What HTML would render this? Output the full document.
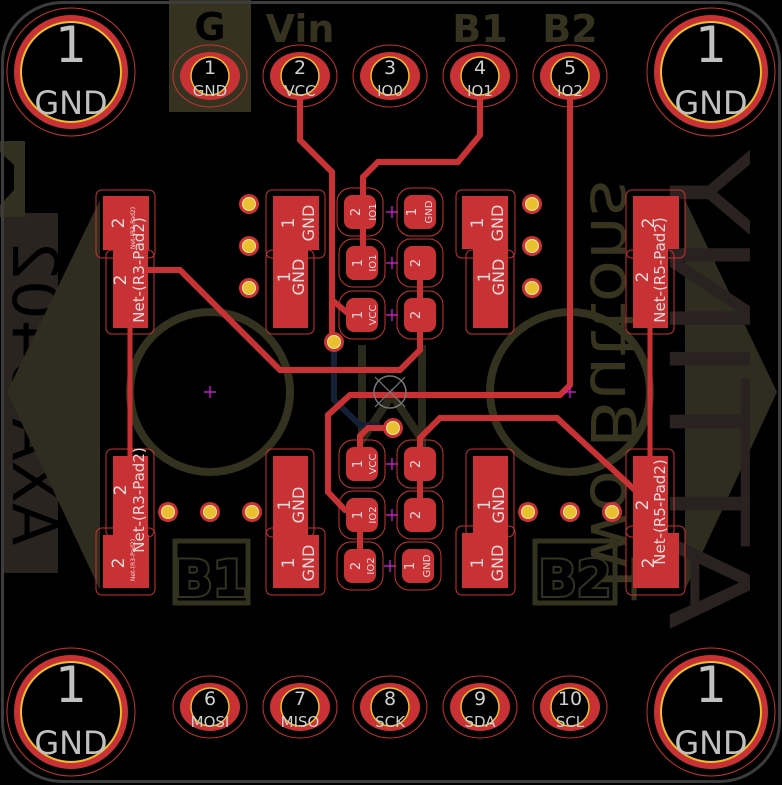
<!DOCTYPE html>
<html><head><meta charset="utf-8"><style>
html,body{margin:0;padding:0;background:#000;}
svg{display:block;}
text{font-family:"DejaVu Sans","Liberation Sans",sans-serif;}
</style></head><body>
<svg width="782" height="785" viewBox="0 0 782 785" xmlns="http://www.w3.org/2000/svg">
<rect width="782" height="785" fill="#000"/>
<rect x="3" y="213" width="55" height="360" fill="#2a2420"/>
<g transform="translate(30,393) rotate(90) scale(-1,1)"><text x="0" y="0" font-size="62" fill="#000" text-anchor="middle" dominant-baseline="middle" font-family="Liberation Sans">AXA 5402</text></g>
<polygon points="0,141 25,141 25,217 0,217 0,205 14,190 14,165 0,152" fill="#32311f"/>
<polygon points="100,200 7,392 100,590" fill="#2e2d1f"/>
<polygon points="685,200 777,392 685,590" fill="#2e2d1f"/>
<g transform="translate(700,390) rotate(90) scale(-1,1)"><text x="0" y="0" font-size="110" fill="#2a2220" text-anchor="middle" dominant-baseline="middle" font-family="Liberation Sans" textLength="480" lengthAdjust="spacingAndGlyphs">ATTINY</text></g>
<g transform="translate(608,390) rotate(90) scale(-1,1)"><text x="0" y="0" font-size="62" fill="#36331f" text-anchor="middle" dominant-baseline="middle" font-family="Liberation Sans" textLength="420" lengthAdjust="spacingAndGlyphs">Two Buttons</text></g>
<circle cx="210" cy="392" r="80" fill="none" stroke="#33321f" stroke-width="8"/>
<circle cx="570" cy="392" r="80" fill="none" stroke="#33321f" stroke-width="8"/>
<polyline points="362,345 362,440 392,395 422,440 422,345" fill="none" stroke="#2a2a1c" stroke-width="8"/>
<rect x="169" y="0" width="82" height="112" fill="#35331f"/>
<text x="210" y="40" font-size="38" font-weight="bold" fill="#000" text-anchor="middle" font-family="Liberation Sans">G</text>
<text x="300" y="42" font-size="38" font-weight="bold" fill="#35331f" text-anchor="middle" font-family="Liberation Sans">Vin</text>
<text x="480" y="42" font-size="38" font-weight="bold" fill="#35331f" text-anchor="middle" font-family="Liberation Sans">B1</text>
<text x="570" y="42" font-size="38" font-weight="bold" fill="#35331f" text-anchor="middle" font-family="Liberation Sans">B2</text>
<rect x="175" y="541" width="73" height="62" fill="none" stroke="#33321f" stroke-width="5"/>
<text x="211" y="596" font-size="50" font-weight="bold" fill="#000" stroke="#33321f" stroke-width="4" paint-order="stroke" text-anchor="middle" font-family="Liberation Sans">B1</text>
<rect x="535" y="541" width="80" height="62" fill="none" stroke="#33321f" stroke-width="5"/>
<text x="575" y="596" font-size="50" font-weight="bold" fill="#000" stroke="#33321f" stroke-width="4" paint-order="stroke" text-anchor="middle" font-family="Liberation Sans">B2</text>
<rect x="2.5" y="2.5" width="777" height="779" rx="60" fill="none" stroke="#3c3c3c" stroke-width="3"/>
<polyline points="334,342 334,400 360,425 380,425" fill="none" stroke="#142036" stroke-width="6"/>
<g fill="none" stroke="#c83234" stroke-width="6" stroke-linejoin="miter">
<polyline points="300,71 300,140 332,172 332,342"/>
<polyline points="332,300 350,315"/>
<polyline points="480,71 480,135 458,162 378,162 363,177 363,263"/>
<polyline points="148,270 180,270 280,370 400,370 420,350 420,263"/>
<polyline points="570,71 570,385 560,395 350,395 328,415 328,492 345,510 358,512"/>
<polyline points="635,490 557,418 440,418 420,438 420,520"/>
<polyline points="393,428 368,428 360,436 360,464"/>
<polyline points="360,515 360,566"/>
</g>
<line x1="130" y1="320" x2="130" y2="460" stroke="#c83234" stroke-width="5"/>
<line x1="650" y1="320" x2="650" y2="460" stroke="#c83234" stroke-width="5"/>
<g fill="#c83234">
<rect x="103" y="196" width="46" height="54"/><rect x="113" y="196" width="35" height="132"/>
<rect x="113" y="456" width="35" height="132"/><rect x="103" y="535" width="46" height="53"/>
<rect x="273" y="196" width="46" height="54"/><rect x="273" y="196" width="35" height="132"/>
<rect x="273" y="456" width="35" height="132"/><rect x="273" y="535" width="46" height="53"/>
<rect x="462" y="196" width="46" height="53"/><rect x="473" y="196" width="35" height="132"/>
<rect x="473" y="456" width="35" height="132"/><rect x="462" y="533" width="46" height="55"/>
<rect x="633" y="196" width="46" height="53"/><rect x="633" y="196" width="35" height="132"/>
<rect x="633" y="456" width="35" height="132"/><rect x="633" y="533" width="46" height="55"/>
</g>
<g fill="none" stroke="#c83234" stroke-width="1">
<rect x="96" y="190" width="59" height="68" rx="6"/><rect x="106" y="250" width="48" height="84" rx="6"/>
<rect x="106" y="449" width="48" height="88" rx="6"/><rect x="96" y="528" width="59" height="67" rx="6"/>
<rect x="266" y="190" width="59" height="68" rx="6"/><rect x="266" y="250" width="48" height="84" rx="6"/>
<rect x="266" y="449" width="48" height="88" rx="6"/><rect x="266" y="528" width="59" height="67" rx="6"/>
<rect x="456" y="190" width="59" height="68" rx="6"/><rect x="466" y="250" width="48" height="84" rx="6"/>
<rect x="466" y="449" width="48" height="88" rx="6"/><rect x="456" y="526" width="59" height="69" rx="6"/>
<rect x="626" y="190" width="59" height="68" rx="6"/><rect x="626" y="250" width="48" height="84" rx="6"/>
<rect x="626" y="449" width="48" height="88" rx="6"/><rect x="626" y="526" width="59" height="69" rx="6"/>
</g>
<g fill="#f0d8d8" font-size="15" font-family="DejaVu Sans">
<text transform="translate(124,223) rotate(-90)" text-anchor="middle" font-size="17">2</text>
<text transform="translate(126,280) rotate(-90)" text-anchor="middle" font-size="17">2</text>
<text transform="translate(144,270) rotate(-90)" text-anchor="middle">Net-(R3-Pad2)</text>
<text transform="translate(135,228) rotate(-90)" text-anchor="middle" font-size="6">Net-(R3-Pad2)</text>
<text transform="translate(126,490) rotate(-90)" text-anchor="middle" font-size="17">2</text>
<text transform="translate(144,500) rotate(-90)" text-anchor="middle">Net-(R3-Pad2)</text>
<text transform="translate(124,563) rotate(-90)" text-anchor="middle" font-size="17">2</text>
<text transform="translate(135,560) rotate(-90)" text-anchor="middle" font-size="6">Net-(R3-Pad2)</text>
<text transform="translate(294,223) rotate(-90)" text-anchor="middle" font-size="17">1</text>
<text transform="translate(314,223) rotate(-90)" text-anchor="middle" font-size="16">GND</text>
<text transform="translate(290,277) rotate(-90)" text-anchor="middle" font-size="17">1</text>
<text transform="translate(304,277) rotate(-90)" text-anchor="middle" font-size="16">GND</text>
<text transform="translate(290,505) rotate(-90)" text-anchor="middle" font-size="17">1</text>
<text transform="translate(304,505) rotate(-90)" text-anchor="middle" font-size="16">GND</text>
<text transform="translate(294,563) rotate(-90)" text-anchor="middle" font-size="17">1</text>
<text transform="translate(314,563) rotate(-90)" text-anchor="middle" font-size="16">GND</text>
<text transform="translate(483,223) rotate(-90)" text-anchor="middle" font-size="17">1</text>
<text transform="translate(503,223) rotate(-90)" text-anchor="middle" font-size="16">GND</text>
<text transform="translate(490,277) rotate(-90)" text-anchor="middle" font-size="17">1</text>
<text transform="translate(504,277) rotate(-90)" text-anchor="middle" font-size="16">GND</text>
<text transform="translate(490,505) rotate(-90)" text-anchor="middle" font-size="17">1</text>
<text transform="translate(504,505) rotate(-90)" text-anchor="middle" font-size="16">GND</text>
<text transform="translate(483,563) rotate(-90)" text-anchor="middle" font-size="17">1</text>
<text transform="translate(503,563) rotate(-90)" text-anchor="middle" font-size="16">GND</text>
<text transform="translate(654,223) rotate(-90)" text-anchor="middle" font-size="17">2</text>
<text transform="translate(648,277) rotate(-90)" text-anchor="middle" font-size="17">2</text>
<text transform="translate(665,270) rotate(-90)" text-anchor="middle">Net-(R5-Pad2)</text>
<text transform="translate(648,505) rotate(-90)" text-anchor="middle" font-size="17">2</text>
<text transform="translate(665,512) rotate(-90)" text-anchor="middle">Net-(R5-Pad2)</text>
<text transform="translate(654,563) rotate(-90)" text-anchor="middle" font-size="17">2</text>
</g>
<g fill="#c83234">
<rect x="344" y="195" width="32" height="34" rx="8"/><rect x="404" y="195" width="32" height="34" rx="8"/>
<rect x="346" y="246" width="32" height="34" rx="8"/><rect x="404" y="246" width="32" height="34" rx="8"/>
<rect x="346" y="298" width="32" height="34" rx="8"/><rect x="404" y="298" width="32" height="34" rx="8"/>
<rect x="346" y="447" width="32" height="34" rx="8"/><rect x="404" y="447" width="32" height="34" rx="8"/>
<rect x="346" y="498" width="32" height="34" rx="8"/><rect x="404" y="498" width="32" height="34" rx="8"/>
<rect x="344" y="549" width="32" height="34" rx="8"/><rect x="402" y="549" width="32" height="34" rx="8"/>
</g>
<g fill="none" stroke="#c83234" stroke-width="1">
<rect x="337" y="188" width="46" height="48" rx="14"/><rect x="397" y="188" width="46" height="48" rx="14"/>
<rect x="339" y="239" width="46" height="48" rx="14"/><rect x="397" y="239" width="46" height="48" rx="14"/>
<rect x="339" y="291" width="46" height="48" rx="14"/><rect x="397" y="291" width="46" height="48" rx="14"/>
<rect x="339" y="440" width="46" height="48" rx="14"/><rect x="397" y="440" width="46" height="48" rx="14"/>
<rect x="339" y="491" width="46" height="48" rx="14"/><rect x="397" y="491" width="46" height="48" rx="14"/>
<rect x="337" y="542" width="46" height="48" rx="14"/><rect x="395" y="542" width="46" height="48" rx="14"/>
</g>
<g fill="#f0d8d8" font-size="13">
<text transform="translate(360,212) rotate(-90)" text-anchor="middle">2</text><text transform="translate(376,212) rotate(-90)" text-anchor="middle" font-size="10">IO1</text>
<text transform="translate(416,212) rotate(-90)" text-anchor="middle">1</text><text transform="translate(432,212) rotate(-90)" text-anchor="middle" font-size="10">GND</text>
<text transform="translate(362,263) rotate(-90)" text-anchor="middle">1</text><text transform="translate(376,263) rotate(-90)" text-anchor="middle" font-size="10">IO1</text>
<text transform="translate(420,263) rotate(-90)" text-anchor="middle">2</text>
<text transform="translate(362,315) rotate(-90)" text-anchor="middle">1</text><text transform="translate(376,315) rotate(-90)" text-anchor="middle" font-size="10">VCC</text>
<text transform="translate(420,315) rotate(-90)" text-anchor="middle">2</text>
<text transform="translate(362,464) rotate(-90)" text-anchor="middle">1</text><text transform="translate(376,464) rotate(-90)" text-anchor="middle" font-size="10">VCC</text>
<text transform="translate(420,464) rotate(-90)" text-anchor="middle">2</text>
<text transform="translate(362,515) rotate(-90)" text-anchor="middle">1</text><text transform="translate(376,515) rotate(-90)" text-anchor="middle" font-size="10">IO2</text>
<text transform="translate(420,515) rotate(-90)" text-anchor="middle">2</text>
<text transform="translate(360,566) rotate(-90)" text-anchor="middle">2</text><text transform="translate(374,566) rotate(-90)" text-anchor="middle" font-size="10">IO2</text>
<text transform="translate(414,566) rotate(-90)" text-anchor="middle">1</text><text transform="translate(430,566) rotate(-90)" text-anchor="middle" font-size="10">GND</text>
</g>
<g stroke="#e020e0" stroke-width="1.2">
<path d="M386,212h12M392,206v12M386,263h12M392,257v12M386,315h12M392,309v12M386,464h12M392,458v12M386,515h12M392,509v12M384,566h12M390,560v12M204,392h12M210,386v12M564,392h12M570,386v12"/>
</g>
<circle cx="390" cy="392" r="16" fill="none" stroke="#777" stroke-width="1.5"/>
<path d="M375,377L405,407M405,377L375,407" stroke="#777" stroke-width="1.2"/>
<g fill="#c83234">
<circle cx="249" cy="204" r="10"/><circle cx="249" cy="246" r="10"/><circle cx="249" cy="288" r="10"/>
<circle cx="532" cy="204" r="10"/><circle cx="532" cy="246" r="10"/><circle cx="532" cy="288" r="10"/>
<circle cx="168" cy="512" r="10"/><circle cx="210" cy="512" r="10"/><circle cx="252" cy="512" r="10"/>
<circle cx="528" cy="512" r="10"/><circle cx="570" cy="512" r="10"/><circle cx="612" cy="512" r="10"/>
<circle cx="334" cy="342" r="10"/><circle cx="393" cy="428" r="10"/>
</g>
<g fill="#e8c030" stroke="#f5e8a0" stroke-width="1">
<circle cx="249" cy="204" r="6.5"/><circle cx="249" cy="246" r="6.5"/><circle cx="249" cy="288" r="6.5"/>
<circle cx="532" cy="204" r="6.5"/><circle cx="532" cy="246" r="6.5"/><circle cx="532" cy="288" r="6.5"/>
<circle cx="168" cy="512" r="6.5"/><circle cx="210" cy="512" r="6.5"/><circle cx="252" cy="512" r="6.5"/>
<circle cx="528" cy="512" r="6.5"/><circle cx="570" cy="512" r="6.5"/><circle cx="612" cy="512" r="6.5"/>
<circle cx="334" cy="342" r="6.5"/><circle cx="393" cy="428" r="6.5"/>
</g>
<g fill="none" stroke="#c83234" stroke-width="1">
<ellipse cx="210" cy="76" rx="37" ry="31"/><ellipse cx="300" cy="76" rx="37" ry="31"/><ellipse cx="390" cy="76" rx="37" ry="31"/><ellipse cx="480" cy="76" rx="37" ry="31"/><ellipse cx="570" cy="76" rx="37" ry="31"/>
<ellipse cx="210" cy="707" rx="37" ry="31"/><ellipse cx="300" cy="707" rx="37" ry="31"/><ellipse cx="390" cy="707" rx="37" ry="31"/><ellipse cx="480" cy="707" rx="37" ry="31"/><ellipse cx="570" cy="707" rx="37" ry="31"/>
</g>
<g fill="#c83234">
<ellipse cx="210" cy="76" rx="30" ry="24"/><ellipse cx="300" cy="76" rx="30" ry="24"/><ellipse cx="390" cy="76" rx="30" ry="24"/><ellipse cx="480" cy="76" rx="30" ry="24"/><ellipse cx="570" cy="76" rx="30" ry="24"/>
<ellipse cx="210" cy="707" rx="30" ry="24"/><ellipse cx="300" cy="707" rx="30" ry="24"/><ellipse cx="390" cy="707" rx="30" ry="24"/><ellipse cx="480" cy="707" rx="30" ry="24"/><ellipse cx="570" cy="707" rx="30" ry="24"/>
</g>
<g fill="#000" stroke="#e8c030" stroke-width="1.5">
<circle cx="210" cy="76" r="19"/><circle cx="300" cy="76" r="19"/><circle cx="390" cy="76" r="19"/><circle cx="480" cy="76" r="19"/><circle cx="570" cy="76" r="19"/>
<circle cx="210" cy="707" r="19"/><circle cx="300" cy="707" r="19"/><circle cx="390" cy="707" r="19"/><circle cx="480" cy="707" r="19"/><circle cx="570" cy="707" r="19"/>
</g>
<g fill="#d0d0d0" text-anchor="middle">
<g font-size="19"><text x="210" y="74">1</text><text x="300" y="74">2</text><text x="390" y="74">3</text><text x="480" y="74">4</text><text x="570" y="74">5</text>
<text x="210" y="705">6</text><text x="300" y="705">7</text><text x="390" y="705">8</text><text x="480" y="705">9</text><text x="570" y="705">10</text></g>
<g font-size="15" font-family="DejaVu Sans Mono"><text x="210" y="96">GND</text><text x="300" y="96">VCC</text><text x="390" y="96">IO0</text><text x="480" y="96">IO1</text><text x="570" y="96">IO2</text>
<text x="210" y="727">MOSI</text><text x="300" y="727">MISO</text><text x="390" y="727">SCK</text><text x="480" y="727">SDA</text><text x="570" y="727">SCL</text></g>
</g>
<g fill="none" stroke="#c83234" stroke-width="1">
<circle cx="71" cy="72" r="64"/><circle cx="711" cy="72" r="64"/><circle cx="71" cy="712" r="64"/><circle cx="711" cy="712" r="64"/>
</g>
<g fill="#c83234"><circle cx="71" cy="72" r="57"/><circle cx="711" cy="72" r="57"/><circle cx="71" cy="712" r="57"/><circle cx="711" cy="712" r="57"/></g>
<g fill="#000" stroke="#e8c030" stroke-width="2"><circle cx="71" cy="72" r="50"/><circle cx="711" cy="72" r="50"/><circle cx="71" cy="712" r="50"/><circle cx="711" cy="712" r="50"/></g>
<g fill="#c0c0c0" text-anchor="middle">
<g font-size="50"><text x="71" y="62">1</text><text x="711" y="62">1</text><text x="71" y="702">1</text><text x="711" y="702">1</text></g>
<g font-size="32"><text x="71" y="114">GND</text><text x="711" y="114">GND</text><text x="71" y="754">GND</text><text x="711" y="754">GND</text></g>
</g>
</svg>
</body></html>
